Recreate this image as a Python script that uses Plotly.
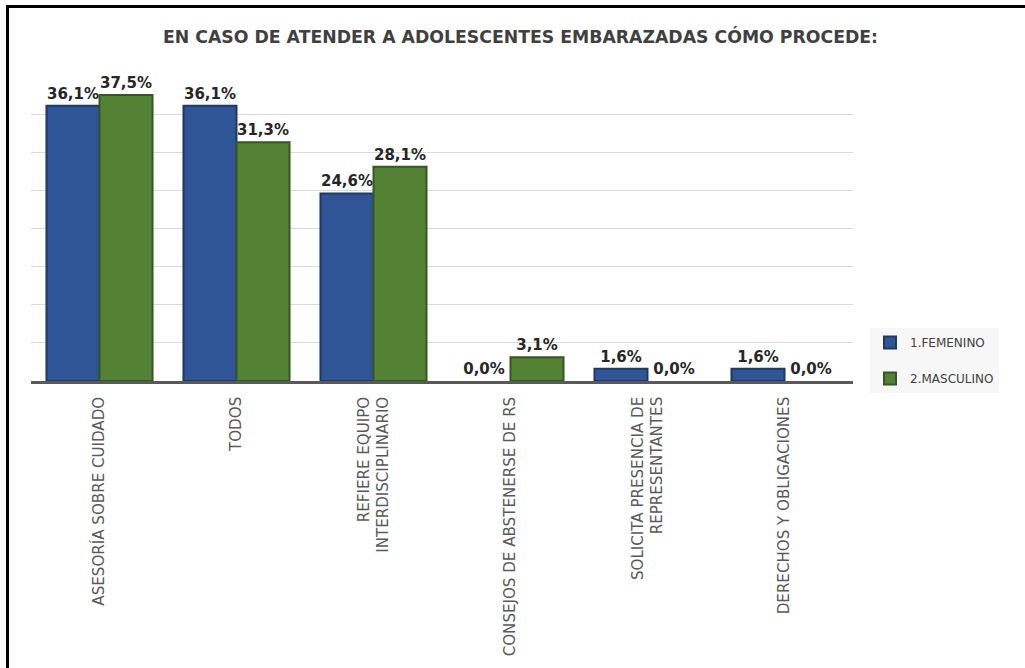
import plotly.graph_objects as go

# Survey responses, percentage of each group
categorias = [
    "ASESORÍA SOBRE CUIDADO",
    "TODOS",
    "REFIERE EQUIPO<br>INTERDISCIPLINARIO",
    "CONSEJOS DE ABSTENERSE DE RS",
    "SOLICITA PRESENCIA DE<br>REPRESENTANTES",
    "DERECHOS Y OBLIGACIONES",
]
femenino = [36.1, 36.1, 24.6, 0.0, 1.6, 1.6]
masculino = [37.5, 31.3, 28.1, 3.1, 0.0, 0.0]
serie_nombres = ["1.FEMENINO", "2.MASCULINO"]
titulo = "EN CASO DE ATENDER A ADOLESCENTES EMBARAZADAS CÓMO PROCEDE:"

W, H = 1025, 668
L, R, T, B = 31, 853, 76, 381  # plot area in pixels

label_font = dict(family="DejaVu Sans", size=15, color="#262626", weight="bold")

fig = go.Figure()
for nombre, valores, relleno, borde, grupo in [
    (serie_nombres[0], femenino, "#2F5597", "#1F3864", "f"),
    (serie_nombres[1], masculino, "#548235", "#375623", "m"),
]:
    # zero-height bars get no outline so nothing shows on the axis
    anchos = [2 if v > 0 else 0 for v in valores]
    fig.add_trace(go.Bar(
        x=categorias,
        y=valores,
        name=nombre,
        legendgroup=grupo,
        marker=dict(color=relleno, line=dict(color=borde, width=anchos)),
        texttemplate="%{y:.1f}%",
        textposition="outside",
        textfont=label_font,
        constraintext="none",
        cliponaxis=False,
    ))

def px_x(px):
    return (px - L) / (R - L)

def px_y(py):
    return (B - py) / (B - T)

# Frame lines: left and top edges of the chart border
frame = dict(color="#000000", width=3)
fig.add_shape(type="line", xref="paper", yref="paper",
              x0=px_x(7.5), x1=px_x(7.5), y0=px_y(H + 5), y1=px_y(6.5), line=frame)
fig.add_shape(type="line", xref="paper", yref="paper",
              x0=px_x(6), x1=px_x(W + 5), y0=px_y(6.5), y1=px_y(6.5), line=frame)

fig.update_layout(
    width=W, height=H,
    margin=dict(l=L, r=W - R, t=T, b=H - B, pad=0, autoexpand=False),
    paper_bgcolor="white",
    plot_bgcolor="white",
    separators=",.",
    barmode="group",
    bargap=0.226,
    bargroupgap=0,
    title=dict(
        text=titulo,
        x=520.5 / W, xanchor="center",
        y=1 - 37 / H, yanchor="middle",
        font=dict(family="DejaVu Sans", size=17.3, color="#404040", weight="bold"),
    ),
    legend=dict(
        x=px_x(870), xanchor="left",
        y=px_y(328), yanchor="top",
        bgcolor="#f7f7f7",
        font=dict(family="DejaVu Sans", size=12, color="#404040"),
        traceorder="grouped",
        tracegroupgap=17,
        itemclick=False,
    ),
    showlegend=True,
)

fig.update_xaxes(
    type="category",
    tickangle=-90,
    tickfont=dict(family="DejaVu Sans", size=15.1, color="#595959"),
    ticklabelstandoff=7,
    automargin=False,
    showline=True, linecolor="#595959", linewidth=2.5,
    showgrid=False, ticks="",
)
fig.update_yaxes(
    range=[0, 40],
    dtick=5,
    showticklabels=False,
    automargin=False,
    showgrid=True, gridcolor="#d9d9d9", gridwidth=1,
    zeroline=False,
    showline=False, ticks="",
)

fig.write_html("out.html")
